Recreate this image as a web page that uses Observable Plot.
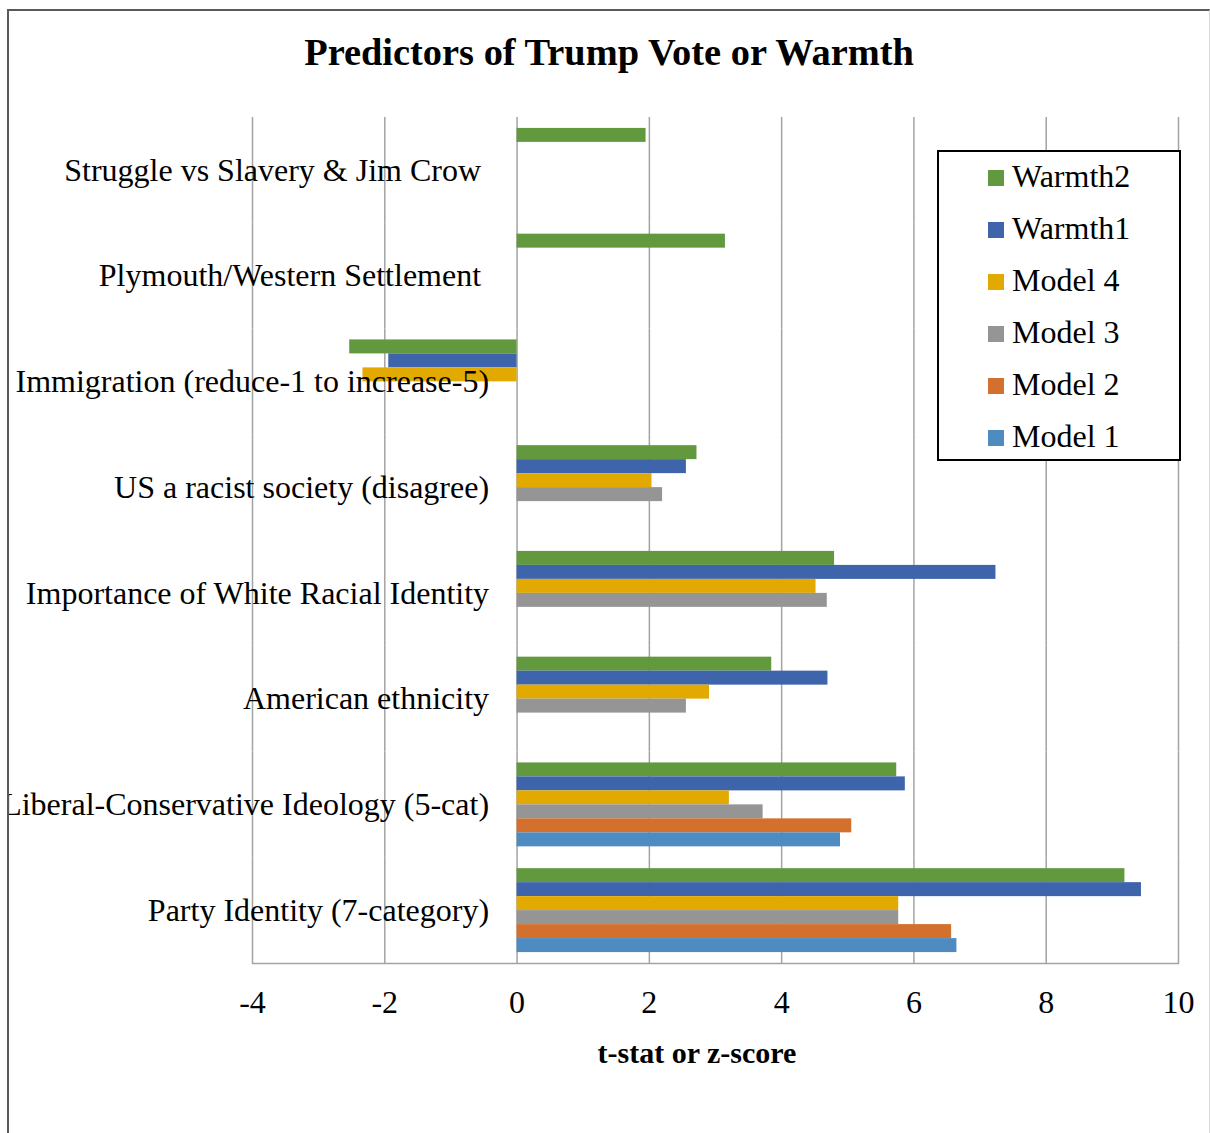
<!DOCTYPE html>
<html>
<head>
<meta charset="utf-8">
<script src="https://cdn.jsdelivr.net/npm/d3@7"></script>
<script src="https://cdn.jsdelivr.net/npm/@observablehq/plot@0.6"></script>
<style>
  html, body { margin: 0; padding: 0; background: #fff; overflow: hidden; }
  #chart {
    position: relative; width: 1210px; height: 1133px; overflow: hidden;
    font-family: "Liberation Serif", "Times New Roman", serif; color: #000;
  }
  #frame {
    position: absolute; left: 7px; top: 9px; width: 1203px; height: 1140px;
    border-left: 2px solid #595959; border-top: 2px solid #595959; border-right: 1px solid #d9d9d9;
    box-sizing: border-box;
  }
  #plot svg { position: absolute; left: 0; top: 0; clip-path: inset(0 0 0 9px); }
  #title {
    position: absolute; left: 0; width: 1218px; top: 33px; text-align: center;
    font-weight: bold; font-size: 38.4px; line-height: 1; white-space: nowrap;
  }
  #xtitle {
    position: absolute; left: 397px; width: 600px; top: 1038px; text-align: center;
    font-weight: bold; font-size: 30px; line-height: 1; white-space: nowrap;
  }
  #legend {
    position: absolute; left: 937px; top: 150px; width: 244px; height: 311px;
    border: 2px solid #000; box-sizing: border-box; background: #fff;
  }
  .entry { position: absolute; left: 49px; height: 32px; font-size: 32px; line-height: 1; white-space: nowrap; }
  .swatch { position: absolute; left: 0; top: 10px; width: 16px; height: 15.5px; }
  .label { position: absolute; left: 24px; top: 0; }
</style>
</head>
<body>
<div id="chart">
  <div id="plot"></div>
  <div id="frame"></div>
  <div id="title"></div>
  <div id="xtitle"></div>
  <div id="legend"></div>
</div>
<script>
// Predictor categories, top to bottom
const categories = [
  "Struggle vs Slavery & Jim Crow\u00A0",
  "Plymouth/Western Settlement\u00A0",
  "Immigration (reduce-1 to increase-5)",
  "US a racist society (disagree)",
  "Importance of White Racial Identity",
  "American ethnicity",
  "Liberal-Conservative Ideology (5-cat)",
  "Party Identity (7-category)"
];

// Model series, in the order bars are stacked within each category
const seriesNames = ["Warmth2", "Warmth1", "Model 4", "Model 3", "Model 2", "Model 1"];
const seriesColors = ["#62993e", "#3e64ac", "#e2aa00", "#959595", "#d4702d", "#4e8bc1"];

// t-stat / z-score per category (null = predictor not in that model)
const warmth2 = [1.95, 3.15, -2.53, 2.72, 4.80, 3.85, 5.74, 9.19];
const warmth1 = [null, null, -1.94, 2.56, 7.24, 4.70, 5.87, 9.44];
const model4  = [null, null, -2.33, 2.04, 4.52, 2.91, 3.21, 5.77];
const model3  = [null, null, null, 2.20, 4.69, 2.56, 3.72, 5.77];
const model2  = [null, null, null, null, null, null, 5.06, 6.57];
const model1  = [null, null, null, null, null, null, 4.89, 6.65];

const xTicks = [-4, -2, 0, 2, 4, 6, 8, 10];
const chartTitle = "Predictors of Trump Vote or Warmth";
const xTitle = "t-stat or z-score";

const seriesValues = [warmth2, warmth1, model4, model3, model2, model1];
const rows = [];
seriesNames.forEach((s, i) => {
  categories.forEach((c, j) => {
    const v = seriesValues[i][j];
    if (v != null) rows.push({category: c, series: s, value: v});
  });
});

const gridColor = "#a3a3a3";

const chart = Plot.plot({
  width: 1210,
  height: 1133,
  marginLeft: 252,
  marginRight: 32,
  marginTop: 117,
  marginBottom: 170,
  style: {fontFamily: "'Liberation Serif', 'Times New Roman', serif", fontSize: "32px", background: "transparent", overflow: "visible"},
  x: {domain: [-4, 10]},
  y: {domain: seriesNames, axis: null, paddingInner: 0, paddingOuter: 0.78, round: false},
  fy: {domain: categories, axis: null, padding: 0, round: false},
  color: {domain: seriesNames, range: seriesColors},
  marks: [
    Plot.gridX(xTicks, {stroke: gridColor, strokeOpacity: 1, strokeWidth: 1.5}),
    Plot.frame({anchor: "bottom", facetAnchor: "bottom", stroke: gridColor, strokeWidth: 1.5}),
    Plot.barX(rows, {fy: "category", y: "series", x: "value", fill: "series"}),
    // category labels sit beside the zero line, on top of the bars
    Plot.text(categories, {fy: d => d, x: () => 0, text: d => d, textAnchor: "end", dx: -28, frameAnchor: "middle", fill: "#000", fontSize: 32}),
    Plot.axisX(xTicks, {tickSize: 0, tickPadding: 27, tickFormat: d => String(d), fontSize: 32, fill: "#000", label: null})
  ]
});
document.getElementById("plot").appendChild(chart);

document.getElementById("title").textContent = chartTitle;
document.getElementById("xtitle").textContent = xTitle;

const legend = document.getElementById("legend");
seriesNames.forEach((s, i) => {
  const entry = document.createElement("div");
  entry.className = "entry";
  entry.style.top = (8 + 52 * i) + "px";
  const sw = document.createElement("div");
  sw.className = "swatch";
  sw.style.background = seriesColors[i];
  const lab = document.createElement("div");
  lab.className = "label";
  lab.textContent = s;
  entry.appendChild(sw);
  entry.appendChild(lab);
  legend.appendChild(entry);
});
</script>
</body>
</html>
